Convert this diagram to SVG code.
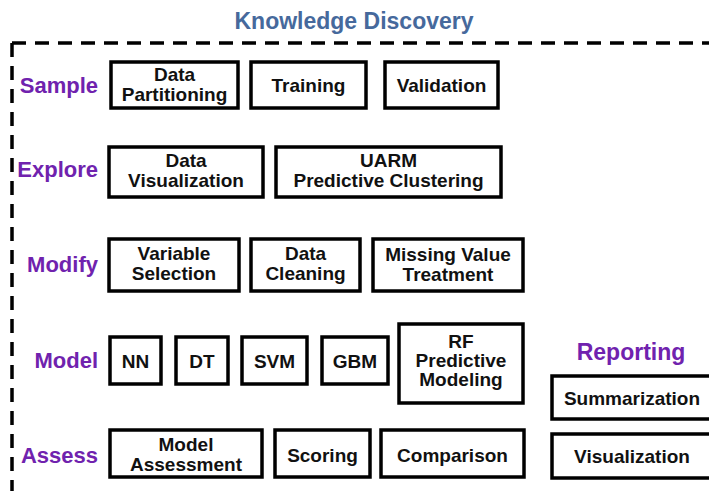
<svg xmlns="http://www.w3.org/2000/svg" width="709" height="491" viewBox="0 0 709 491">
<style>
.box{fill:#fff;stroke:#000;stroke-width:3.5}
.t{font-family:"Liberation Sans",Arial,sans-serif;font-weight:bold;font-size:19px;fill:#111;text-anchor:middle}
.lab{font-family:"Liberation Sans",Arial,sans-serif;font-weight:bold;font-size:22px;fill:#7022AE;text-anchor:end}
.border{fill:none;stroke:#000;stroke-width:3.5;stroke-dasharray:14 9}
</style>
<rect width="709" height="491" fill="#fff"/>
<text x="354" y="29" style="font-family:'Liberation Sans',Arial,sans-serif;font-weight:bold;font-size:23px;fill:#46699C;text-anchor:middle">Knowledge Discovery</text>
<g id="border">
<line class="border" x1="12" y1="43" x2="712" y2="43"/>
<line class="border" x1="12" y1="43" x2="12" y2="495"/>
</g>
<g id="labels">
<text class="lab" x="98" y="93">Sample</text>
<text class="lab" x="98" y="177">Explore</text>
<text class="lab" x="98" y="272">Modify</text>
<text class="lab" x="98" y="368">Model</text>
<text class="lab" x="98" y="463">Assess</text>
<text x="631" y="360" style="font-family:'Liberation Sans',Arial,sans-serif;font-weight:bold;font-size:23px;fill:#7022AE;text-anchor:middle">Reporting</text>
</g>
<g id="connectors"></g>
<g id="data-partitioning"><rect class="box" x="111" y="62" width="127" height="46"/><text class="t" x="174.5" y="81">Data</text><text class="t" x="174.5" y="100.5">Partitioning</text></g>
<g id="training"><rect class="box" x="251" y="62" width="115" height="46"/><text class="t" x="308.5" y="92">Training</text></g>
<g id="validation"><rect class="box" x="385" y="62" width="113" height="46"/><text class="t" x="441.5" y="92">Validation</text></g>
<g id="data-visualization"><rect class="box" x="109" y="147" width="154" height="50"/><text class="t" x="186" y="167">Data</text><text class="t" x="186" y="187">Visualization</text></g>
<g id="uarm"><rect class="box" x="276" y="147" width="225" height="50"/><text class="t" x="388.5" y="167">UARM</text><text class="t" x="388.5" y="187">Predictive Clustering</text></g>
<g id="variable-selection"><rect class="box" x="109" y="239" width="130" height="52"/><text class="t" x="174" y="260">Variable</text><text class="t" x="174" y="279.5">Selection</text></g>
<g id="data-cleaning"><rect class="box" x="251" y="239" width="109" height="52"/><text class="t" x="305.5" y="260">Data</text><text class="t" x="305.5" y="279.5">Cleaning</text></g>
<g id="missing-value"><rect class="box" x="373" y="239" width="150" height="52"/><text class="t" x="448" y="261">Missing Value</text><text class="t" x="448" y="281">Treatment</text></g>
<g id="nn"><rect class="box" x="110" y="337" width="51" height="47"/><text class="t" x="135.5" y="368">NN</text></g>
<g id="dt"><rect class="box" x="176" y="337" width="52" height="47"/><text class="t" x="202" y="368">DT</text></g>
<g id="svm"><rect class="box" x="242" y="337" width="65" height="47"/><text class="t" x="274.5" y="368">SVM</text></g>
<g id="gbm"><rect class="box" x="322" y="337" width="66" height="47"/><text class="t" x="355" y="368">GBM</text></g>
<g id="rf"><rect class="box" x="399" y="324" width="124" height="79"/><text class="t" x="461" y="348">RF</text><text class="t" x="461" y="367">Predictive</text><text class="t" x="461" y="386">Modeling</text></g>
<g id="model-assessment"><rect class="box" x="110" y="430" width="152" height="47"/><text class="t" x="186" y="451">Model</text><text class="t" x="186" y="470.5">Assessment</text></g>
<g id="scoring"><rect class="box" x="275" y="430" width="95" height="47"/><text class="t" x="322.5" y="462">Scoring</text></g>
<g id="comparison"><rect class="box" x="381" y="430" width="143" height="47"/><text class="t" x="452.5" y="462">Comparison</text></g>
<g id="summarization"><rect class="box" x="552" y="376" width="164" height="43"/><text class="t" x="632" y="405">Summarization</text></g>
<g id="visualization"><rect class="box" x="552" y="434" width="164" height="44"/><text class="t" x="632" y="463">Visualization</text></g>
</svg>
